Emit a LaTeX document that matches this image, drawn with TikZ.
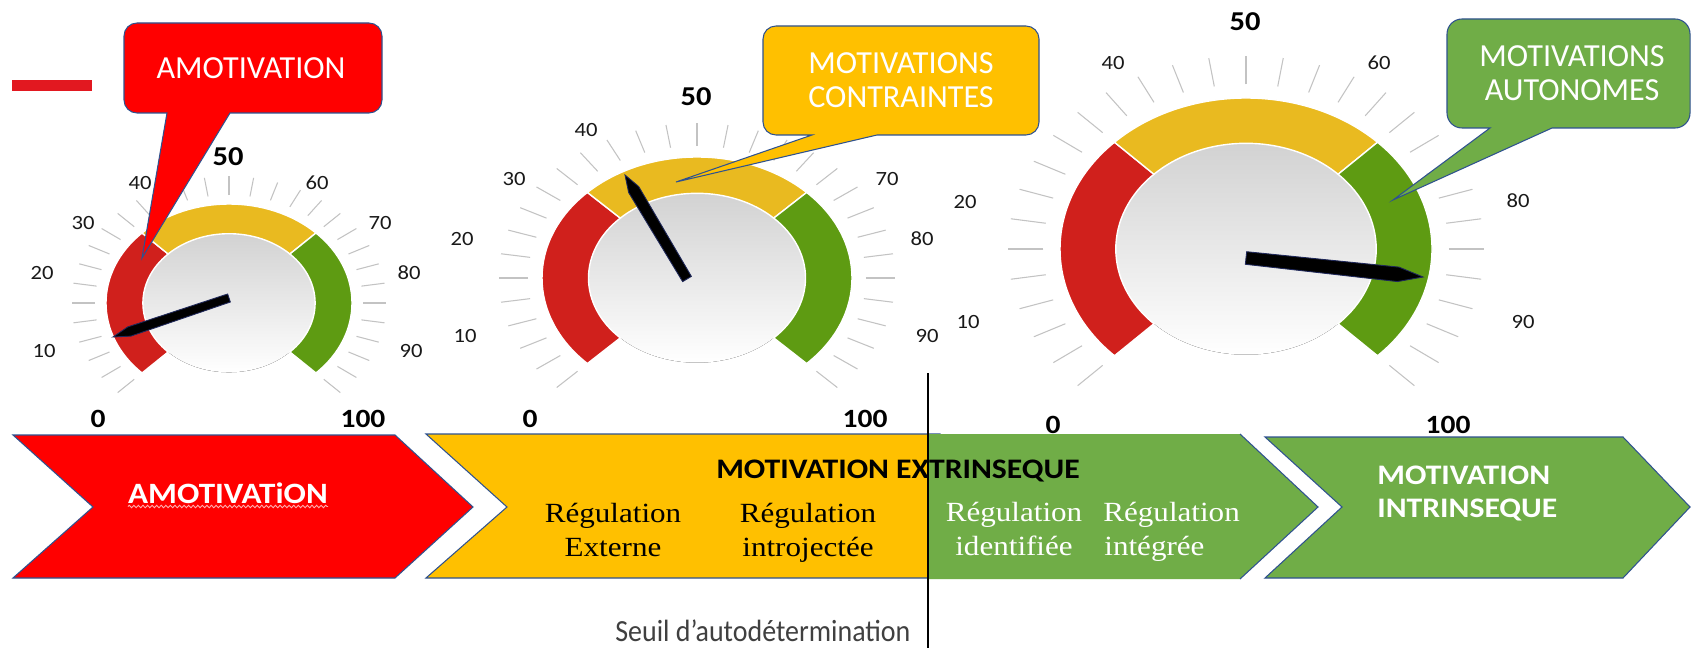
\documentclass[tikz,border=0pt]{standalone}
\usepackage{fontspec}
\usetikzlibrary{calc,decorations.pathmorphing}
\newfontfamily\fcal{Carlito}
\newfontfamily\fcalx{Carlito}[FakeStretch=1.12]
\newfontfamily\fcaln{Carlito}[FakeStretch=0.91]
\newfontfamily\ftnr{Liberation Serif}[FakeStretch=1.12]
\definecolor{cred}{RGB}{255,0,0}
\definecolor{cbar}{RGB}{226,24,32}
\definecolor{cyel}{RGB}{255,192,0}
\definecolor{cgrn}{RGB}{112,173,71}
\definecolor{cbord}{RGB}{47,82,143}
\definecolor{gred}{RGB}{208,32,28}
\definecolor{gyel}{RGB}{233,186,32}
\definecolor{ggrn}{RGB}{94,155,18}
\definecolor{ctick}{RGB}{195,195,195}
\definecolor{gshade}{RGB}{210,210,210}
\definecolor{cseuil}{RGB}{64,64,64}
\definecolor{cneedle}{RGB}{31,40,90}
\definecolor{cwave}{RGB}{255,175,175}
\tikzset{
  tickln/.style={draw=ctick, line width=0.6pt},
  band/.style={draw=white, line width=0.8pt},
  glab/.style={font=\fcalx\fontsize{11.5}{14}\selectfont, text=black!90, inner sep=0pt},
  gbig/.style={font=\fcalx\bfseries\fontsize{15.5}{18}\selectfont, inner sep=0pt},
  endlab/.style={font=\fcalx\bfseries\fontsize{15}{18}\selectfont, inner sep=0pt},
  needlest/.style={fill=black, draw=cneedle, line width=0.5pt, line join=miter},
  callbox/.style={draw=cbord, line width=0.6pt},
  chev/.style={draw=cbord, line width=0.6pt},
  calltxt/.style={text=white, inner sep=0pt, font=\fcal\fontsize{18.3}{19.3}\selectfont},
  chevtxt/.style={text=white, inner sep=0pt, font=\fcalx\bfseries\fontsize{16.1}{18}\selectfont},
  reg/.style={inner sep=0pt, font=\ftnr\fontsize{15.8}{18}\selectfont},
  wave/.style={draw=cwave, line width=0.5pt, decorate, decoration={snake, amplitude=0.7pt, segment length=2.6pt}}
}
\newcommand\gaugedraw[4]{%
  \fill[top color=gshade, bottom color=white] (#1,#2) ellipse [x radius={0.7*#3}, y radius={0.7*#4}];
  \begin{scope}[shift={(#1,#2)}, yscale=-1]
    \foreach \k in {0,...,30}{%
      \pgfmathsetmacro\aa{-45+9*\k}
      \draw[tickln] (\aa:{1.09*#3} and {1.09*#4}) -- (\aa:{1.28*#3} and {1.28*#4});}
    \filldraw[band, fill=gred] (225:#3 and #4) arc[start angle=225, end angle=135, x radius=#3, y radius=#4]
      -- (135:{0.7*#3} and {0.7*#4}) arc[start angle=135, end angle=225, x radius={0.7*#3}, y radius={0.7*#4}] -- cycle;
    \filldraw[band, fill=gyel] (135:#3 and #4) arc[start angle=135, end angle=45, x radius=#3, y radius=#4]
      -- (45:{0.7*#3} and {0.7*#4}) arc[start angle=45, end angle=135, x radius={0.7*#3}, y radius={0.7*#4}] -- cycle;
    \filldraw[band, fill=ggrn] (45:#3 and #4) arc[start angle=45, end angle=-45, x radius=#3, y radius=#4]
      -- (-45:{0.7*#3} and {0.7*#4}) arc[start angle=-45, end angle=45, x radius={0.7*#3}, y radius={0.7*#4}] -- cycle;
  \end{scope}}
\newcommand\needle[3]{%
  \path ($(#1)!0.86!(#2)$) coordinate (nsh);
  \filldraw[needlest] ($(#1)!#3!90:(#2)$) -- ($(nsh)!#3*1.15!90:(#2)$) -- (#2)
    -- ($(nsh)!#3*1.15!-90:(#2)$) -- ($(#1)!#3!-90:(#2)$) -- cycle;}
\begin{document}
\begin{tikzpicture}[x=0.02cm, y=-0.02cm]
\fill[white] (0,0) rectangle (1692,648);
\useasboundingbox (0,0) rectangle (1692,648);

% red bar
\fill[cbar] (12,80) rectangle (92,91);

% gauges
\gaugedraw{229}{303}{123}{99}
\gaugedraw{697}{278}{155}{121}
\gaugedraw{1246}{249}{186}{151}

% needles
\coordinate (n1b) at (229,298); \coordinate (n1t) at (113,337);
\coordinate (n2b) at (687,279); \coordinate (n2t) at (625,175);
\coordinate (n3b) at (1246,258); \coordinate (n3t) at (1423,277);
\needle{n1b}{n1t}{2.4pt}
\needle{n2b}{n2t}{2.9pt}
\needle{n3b}{n3t}{3.6pt}

% gauge labels
\node[gbig] (g1-50) at (228,157) {50};
\foreach \t/\x/\y in {40/140/183, 60/317/183, 30/83/223, 70/380/223, 20/42/273, 80/409/273, 10/44/351, 90/411/351}
  \node[glab] (g1-\t) at (\x,\y) {\t};
\node[gbig] (g2-50) at (696,97) {50};
\foreach \t/\x/\y in {40/586/130, 30/514/179, 20/462/239, 10/465/336, 70/887/179, 80/922/239, 90/927/336}
  \node[glab] (g2-\t) at (\x,\y) {\t};
\node[gbig] (g3-50) at (1245,22) {50};
\foreach \t/\x/\y in {40/1113/63, 60/1379/63, 20/965/202, 10/968/322, 80/1518/201, 90/1523/322}
  \node[glab] (g3-\t) at (\x,\y) {\t};

% scale ends
\node[endlab] (e1a) at (98,419) {0};
\node[endlab] (e1b) at (363,419) {100};
\node[endlab] (e2a) at (530,419) {0};
\node[endlab] (e2b) at (865,419) {100};
\node[endlab] (e3a) at (1053,425) {0};
\node[endlab] (e3b) at (1448,425) {100};

% callouts
\filldraw[callbox, fill=cred] (124,36) arc[start angle=180, end angle=270, radius=13] -- (369,23)
  arc[start angle=270, end angle=360, radius=13] -- (382,100) arc[start angle=0, end angle=90, radius=13]
  -- (230,113) -- (142,258) -- (167,113) -- (137,113) arc[start angle=90, end angle=180, radius=13] -- cycle;
\node[calltxt] (c1t) at (251,68) {AMOTIVATION};

\filldraw[callbox, fill=cyel] (763,39) arc[start angle=180, end angle=270, radius=13] -- (1026,26)
  arc[start angle=270, end angle=360, radius=13] -- (1039,122) arc[start angle=0, end angle=90, radius=13]
  -- (877,135) -- (676,182) -- (812,135) -- (776,135) arc[start angle=90, end angle=180, radius=13] -- cycle;
\node[calltxt, align=center] (c2t) at (901,80) {MOTIVATIONS\\CONTRAINTES};

\filldraw[callbox, fill=cgrn] (1447,34) arc[start angle=180, end angle=270, radius=15] -- (1675,19)
  arc[start angle=270, end angle=360, radius=15] -- (1690,113) arc[start angle=0, end angle=90, radius=15]
  -- (1552,128) -- (1393,200) -- (1490,128) -- (1462,128) arc[start angle=90, end angle=180, radius=15] -- cycle;
\node[calltxt, align=center] (c3t) at (1572,73) {MOTIVATIONS\\AUTONOMES};

% chevrons
\filldraw[chev, fill=cred] (13,435) -- (395,435) -- (473,507) -- (395,578) -- (13,578) -- (93,507) -- cycle;
\filldraw[chev, fill=cyel] (426,434) -- (940,434) -- (940,578) -- (426,578) -- (507,507) -- cycle;
\fill[cgrn] (928,434) -- (1240,434) -- (1318,507) -- (1240,579) -- (928,579) -- cycle;
\draw[chev] (1240,434) -- (1318,507) -- (1240,579);
\filldraw[chev, fill=cgrn] (1265,437) -- (1623,437) -- (1690,507) -- (1623,578) -- (1265,578) -- (1342,507) -- cycle;

% chevron texts
\node[chevtxt, font=\fcalx\bfseries\fontsize{16.8}{18}\selectfont, anchor=base] (t1) at (228,503) {AMOTIVATiON};
\draw[wave] ([yshift=-2pt]t1.base west) -- ([yshift=-2pt]t1.base east);
\node[chevtxt, text=black, anchor=base] (ext) at (898,478) {MOTIVATION EXTRINSEQUE};
\node[reg, anchor=base] (r1a) at (613,522) {Régulation};
\node[reg, anchor=base] (r1b) at (613,556) {Externe};
\node[reg, anchor=base] (r2a) at (808,522) {Régulation};
\node[reg, anchor=base] (r2b) at (808,556) {introjectée};
\node[reg, text=white, anchor=base] (r3a) at (1014,521) {Régulation};
\node[reg, text=white, anchor=base] (r3b) at (1014,555) {identifiée};
\node[reg, text=white, anchor=base west] (r4a) at (1103,521) {Régulation};
\node[reg, text=white, anchor=base west] (r4b) at (1104,555) {intégrée};
\node[chevtxt, anchor=base west] (i1) at (1377,484) {MOTIVATION};
\node[chevtxt, anchor=base west] (i2) at (1377,517) {INTRINSEQUE};

% threshold
\node[anchor=base west, inner sep=0pt, text=cseuil, font=\fcaln\fontsize{17.5}{20}\selectfont] (seuil) at (615,641) {Seuil d’autodétermination};
\coordinate (s1) at (928,373);
\coordinate (s2) at (928,648);
\draw[line width=1.2pt, black] (s1) -- (s2);
\end{tikzpicture}
\end{document}
